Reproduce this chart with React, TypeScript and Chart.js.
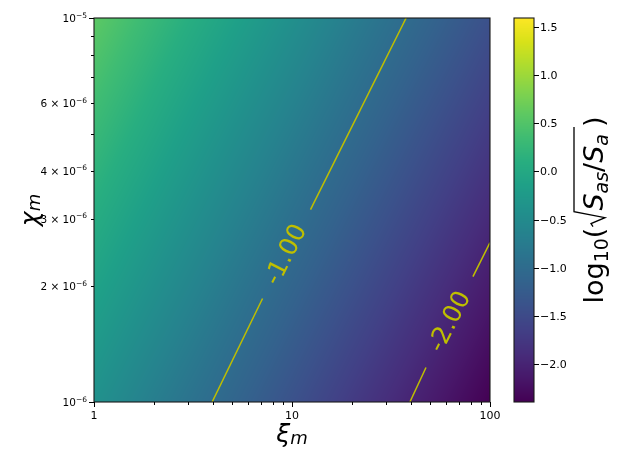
import { useEffect, useRef } from 'react';
import { Chart, registerables } from 'chart.js';

Chart.register(...registerables);

// ---- data ----
const xiGrid = [1, 2, 5, 10, 20, 50, 100];
const chiGrid = [1e-6, 2e-6, 5e-6, 1e-5];
const heatAtChi1e6 = [-0.40, -0.71, -1.10, -1.40, -1.71, -2.10, -2.40];
const heatAtChi2e6 = [-0.11, -0.41, -0.81, -1.11, -1.41, -1.81, -2.11];
const heatAtChi5e6 = [0.28, -0.02, -0.42, -0.72, -1.02, -1.42, -1.72];
const heatAtChi1e5 = [0.58, 0.27, -0.12, -0.42, -0.73, -1.12, -1.42];
const heatRows = [heatAtChi1e6, heatAtChi2e6, heatAtChi5e6, heatAtChi1e5];

const colorMin = -2.396;
const colorMax = 1.594;
const colorbarTicks = [-2.0, -1.5, -1.0, -0.5, 0.0, 0.5, 1.0, 1.5];
const colorbarTickLabels = ['\u22122.0', '\u22121.5', '\u22121.0', '\u22120.5', '0.0', '0.5', '1.0', '1.5'];

const xiMajorTicks = [1, 10, 100];
const xiMajorLabels = ['1', '10', '100'];
const xiMinorTicks = [2, 3, 4, 5, 6, 7, 8, 9, 20, 30, 40, 50, 60, 70, 80, 90];
const chiMajorTicks = [1e-6, 1e-5];
const chiMajorExponents = ['\u22126', '\u22125'];
const chiMinorTicks = [2e-6, 3e-6, 4e-6, 5e-6, 6e-6, 7e-6, 8e-6, 9e-6];
const chiLabeledMinor = [2e-6, 3e-6, 4e-6, 6e-6];
const chiLabeledMantissa = ['2', '3', '4', '6'];

const contourM1Low = [{ x: 3.95, y: 1e-6 }, { x: 7.1, y: 1.86e-6 }];
const contourM1High = [{ x: 12.4, y: 3.17e-6 }, { x: 37.7, y: 1e-5 }];
const contourM2Low = [{ x: 39.4, y: 1e-6 }, { x: 47.5, y: 1.23e-6 }];
const contourM2High = [{ x: 82, y: 2.12e-6 }, { x: 100, y: 2.6e-6 }];
const contourLabelText = ['-1.00', '-2.00'];
const contourLabelAt = [{ x: 9.3, y: 2.42e-6 }, { x: 62.5, y: 1.62e-6 }];

// ---- colormap ----
const VIRIDIS = [
  '#440154', '#48186a', '#472d7b', '#424086', '#3b528b', '#33638d', '#2c728e', '#26828e',
  '#21918c', '#1fa088', '#28ae80', '#3fbc73', '#5ec962', '#84d44b', '#addc30', '#d8e219', '#fde725',
].map((h) => [parseInt(h.slice(1, 3), 16), parseInt(h.slice(3, 5), 16), parseInt(h.slice(5, 7), 16)]);

function viridis(t: number): number[] {
  const c = Math.max(0, Math.min(1, t)) * (VIRIDIS.length - 1);
  const i = Math.min(VIRIDIS.length - 2, Math.floor(c));
  const f = c - i;
  const a = VIRIDIS[i], b = VIRIDIS[i + 1];
  return [a[0] + (b[0] - a[0]) * f, a[1] + (b[1] - a[1]) * f, a[2] + (b[2] - a[2]) * f];
}

const logXi = xiGrid.map(Math.log10);
const logChi = chiGrid.map(Math.log10);

function seg(arr: number[], v: number) {
  let i = 0;
  while (i < arr.length - 2 && v > arr[i + 1]) i++;
  const f = (v - arr[i]) / (arr[i + 1] - arr[i]);
  return [i, Math.max(0, Math.min(1, f))];
}

function heatValue(lx: number, ly: number) {
  const [i, fx] = seg(logXi, lx);
  const [j, fy] = seg(logChi, ly);
  const r0 = heatRows[j], r1 = heatRows[j + 1];
  const v0 = r0[i] + (r0[i + 1] - r0[i]) * fx;
  const v1 = r1[i] + (r1[i + 1] - r1[i]) * fx;
  return v0 + (v1 - v0) * fy;
}

const FONT = '"DejaVu Sans", "Liberation Sans", sans-serif';
const CB_LEFT = 514;
const CB_WIDTH = 20;

function drawRuns(ctx: CanvasRenderingContext2D, runs: any[], x: number, y: number) {
  let cx = x;
  for (const r of runs) {
    ctx.font = r.f;
    ctx.fillText(r.t, cx, y + r.dy);
    cx += ctx.measureText(r.t).width;
  }
  return cx;
}
function runsWidth(ctx: CanvasRenderingContext2D, runs: any[]) {
  let w = 0;
  for (const r of runs) {
    ctx.font = r.f;
    w += ctx.measureText(r.t).width;
  }
  return w;
}

const heatPlugin = {
  id: 'heatmap',
  beforeDatasetsDraw(chart: any) {
    const { ctx, chartArea: a, scales } = chart;
    const xs = scales.x, ys = scales.y;
    const L = Math.round(a.left), T = Math.round(a.top);
    const W = Math.round(a.right) - L, H = Math.round(a.bottom) - T;
    const img = ctx.createImageData(W, H);
    const lxs = new Float64Array(W);
    for (let i = 0; i < W; i++) lxs[i] = Math.log10(xs.getValueForPixel(L + i + 0.5));
    for (let j = 0; j < H; j++) {
      const ly = Math.log10(ys.getValueForPixel(T + j + 0.5));
      for (let i = 0; i < W; i++) {
        const v = heatValue(lxs[i], ly);
        const c = viridis((v - colorMin) / (colorMax - colorMin));
        const k = (j * W + i) * 4;
        img.data[k] = c[0];
        img.data[k + 1] = c[1];
        img.data[k + 2] = c[2];
        img.data[k + 3] = 255;
      }
    }
    ctx.putImageData(img, L, T);
  },
  afterDatasetsDraw(chart: any) {
    const { ctx, scales } = chart;
    const xs = scales.x, ys = scales.y;
    const lines = [
      [contourM1Low[0], contourM1High[1]],
      [contourM2Low[0], contourM2High[1]],
    ];
    ctx.save();
    ctx.fillStyle = '#bfbf00';
    ctx.font = '25px ' + FONT;
    ctx.textAlign = 'center';
    ctx.textBaseline = 'middle';
    contourLabelAt.forEach((p, k) => {
      const [s, e] = lines[k];
      const ang = Math.atan2(
        ys.getPixelForValue(e.y) - ys.getPixelForValue(s.y),
        xs.getPixelForValue(e.x) - xs.getPixelForValue(s.x),
      );
      ctx.save();
      ctx.translate(xs.getPixelForValue(p.x), ys.getPixelForValue(p.y));
      ctx.rotate(ang);
      ctx.fillText(contourLabelText[k], 0, 1);
      ctx.restore();
    });
    ctx.restore();
  },
  afterDraw(chart: any) {
    const { ctx, chartArea: a, scales } = chart;
    const xs = scales.x, ys = scales.y, cb = scales.cb;
    ctx.save();

    // colorbar
    const top = Math.round(a.top), bot = Math.round(a.bottom);
    for (let py = top; py < bot; py++) {
      const v = cb.getValueForPixel(py + 0.5);
      const c = viridis((v - colorMin) / (colorMax - colorMin));
      ctx.fillStyle = `rgb(${c[0] | 0},${c[1] | 0},${c[2] | 0})`;
      ctx.fillRect(CB_LEFT, py, CB_WIDTH, 1);
    }

    // frames
    ctx.strokeStyle = '#1a1a1a';
    ctx.lineWidth = 1.1;
    ctx.strokeRect(a.left, a.top, a.right - a.left, a.bottom - a.top);
    ctx.strokeRect(CB_LEFT, a.top, CB_WIDTH, a.bottom - a.top);

    // ticks
    ctx.strokeStyle = '#000';
    ctx.lineWidth = 1;
    ctx.beginPath();
    xiMajorTicks.forEach((v) => {
      const px = Math.round(xs.getPixelForValue(v)) + 0.5;
      ctx.moveTo(px, a.bottom); ctx.lineTo(px, a.bottom + 5);
    });
    xiMinorTicks.forEach((v) => {
      const px = Math.round(xs.getPixelForValue(v)) + 0.5;
      ctx.moveTo(px, a.bottom); ctx.lineTo(px, a.bottom + 3);
    });
    chiMajorTicks.forEach((v) => {
      const py = Math.round(ys.getPixelForValue(v)) + 0.5;
      ctx.moveTo(a.left, py); ctx.lineTo(a.left - 5, py);
    });
    chiMinorTicks.forEach((v) => {
      const py = Math.round(ys.getPixelForValue(v)) + 0.5;
      ctx.moveTo(a.left, py); ctx.lineTo(a.left - 3, py);
    });
    colorbarTicks.forEach((v) => {
      const py = Math.round(cb.getPixelForValue(v)) + 0.5;
      ctx.moveTo(CB_LEFT + CB_WIDTH, py); ctx.lineTo(CB_LEFT + CB_WIDTH + 5, py);
    });
    ctx.stroke();

    // tick labels
    ctx.fillStyle = '#000';
    ctx.textBaseline = 'alphabetic';
    ctx.font = '11px ' + FONT;
    ctx.textAlign = 'center';
    xiMajorTicks.forEach((v, i) => {
      ctx.fillText(xiMajorLabels[i], xs.getPixelForValue(v), a.bottom + 17);
    });
    ctx.textAlign = 'left';
    colorbarTicks.forEach((v, i) => {
      ctx.fillText(colorbarTickLabels[i], CB_LEFT + CB_WIDTH + 6, cb.getPixelForValue(v) + 4);
    });

    const main = '10.5px ' + FONT;
    const sup = '7.5px ' + FONT;
    const drawY = (mant: string, exp: string, v: number) => {
      const runs = [
        { t: mant, f: main, dy: 0 },
        { t: exp, f: sup, dy: -4.5 },
      ];
      const w = runsWidth(ctx, runs);
      drawRuns(ctx, runs, a.left - 7 - w, ys.getPixelForValue(v) + 4);
    };
    chiMajorTicks.forEach((v, i) => drawY('10', chiMajorExponents[i], v));
    chiLabeledMinor.forEach((v, i) => drawY(chiLabeledMantissa[i] + ' \u00d7 10', '\u22126', v));

    // x title: xi_m
    const bigI = 'italic 25px ' + FONT;
    const smallI = 'italic 18px ' + FONT;
    const xt = [
      { t: '\u03be', f: bigI, dy: 0 },
      { t: 'm', f: smallI, dy: 2 },
    ];
    const xw = runsWidth(ctx, xt);
    drawRuns(ctx, xt, (a.left + a.right) / 2 - xw / 2, 442);

    // y title: chi_m
    const yt = [
      { t: '\u03c7', f: bigI, dy: 0 },
      { t: 'm', f: smallI, dy: 2 },
    ];
    const yw = runsWidth(ctx, yt);
    ctx.save();
    ctx.translate(38, (a.top + a.bottom) / 2);
    ctx.rotate(-Math.PI / 2);
    drawRuns(ctx, yt, -yw / 2, 0);
    ctx.restore();

    // colorbar title: log10( sqrt(S_as/S_a) )
    const big = '27px ' + FONT;
    const bigIt = 'italic 27px ' + FONT;
    const small = '19px ' + FONT;
    const smallIt = 'italic 19px ' + FONT;
    const before = [
      { t: 'log', f: big, dy: 0 },
      { t: '10', f: small, dy: 5 },
      { t: '(', f: big, dy: 0 },
    ];
    const inside = [
      { t: 'S', f: bigIt, dy: 0 },
      { t: 'as', f: smallIt, dy: 5 },
      { t: '/', f: big, dy: 0 },
      { t: 'S', f: bigIt, dy: 0 },
      { t: 'a', f: smallIt, dy: 5 },
    ];
    const after = [{ t: ')', f: big, dy: 0 }];
    const radW = 17, pad = 7;
    const total = runsWidth(ctx, before) + radW + runsWidth(ctx, inside) + pad + runsWidth(ctx, after);
    ctx.save();
    ctx.translate(603, (a.top + a.bottom) / 2);
    ctx.rotate(-Math.PI / 2);
    let x = -total / 2;
    x = drawRuns(ctx, before, x, 0);
    const r0 = x;
    x += radW;
    x = drawRuns(ctx, inside, x, 0);
    const rEnd = x + pad;
    ctx.strokeStyle = '#000';
    ctx.lineWidth = 1.3;
    ctx.beginPath();
    ctx.moveTo(r0 + 1, -10);
    ctx.lineTo(r0 + 4, -12);
    ctx.lineTo(r0 + 10, 2);
    ctx.lineTo(r0 + 16, -29);
    ctx.lineTo(rEnd, -29);
    ctx.stroke();
    drawRuns(ctx, after, rEnd, 0);
    ctx.restore();

    ctx.restore();
  },
};

export default function App() {
  const ref = useRef<HTMLCanvasElement | null>(null);
  useEffect(() => {
    if (!ref.current) return;
    const line = (data: any[]) => ({
      data,
      showLine: true,
      borderColor: '#bfbf00',
      borderWidth: 1.5,
      pointRadius: 0,
      fill: false,
    });
    const chart = new Chart(ref.current, {
      type: 'scatter',
      data: {
        datasets: [line(contourM1Low), line(contourM1High), line(contourM2Low), line(contourM2High)],
      },
      options: {
        animation: false,
        responsive: false,
        devicePixelRatio: 1,
        events: [],
        layout: { padding: { left: 94, right: 133, top: 18, bottom: 65 } },
        plugins: { legend: { display: false }, tooltip: { enabled: false } },
        scales: {
          x: { type: 'logarithmic', min: 1, max: 100, display: false },
          y: { type: 'logarithmic', min: 1e-6, max: 1e-5, display: false },
          cb: { type: 'linear', axis: 'y', min: colorMin, max: colorMax, display: false },
        },
      } as any,
      plugins: [heatPlugin],
    });
    return () => chart.destroy();
  }, []);
  return (
    <div style={{ position: 'absolute', left: 0, top: 0, width: 623, height: 467, background: '#fff' }}>
      <canvas ref={ref} width={623} height={467} style={{ display: 'block' }} />
    </div>
  );
}
